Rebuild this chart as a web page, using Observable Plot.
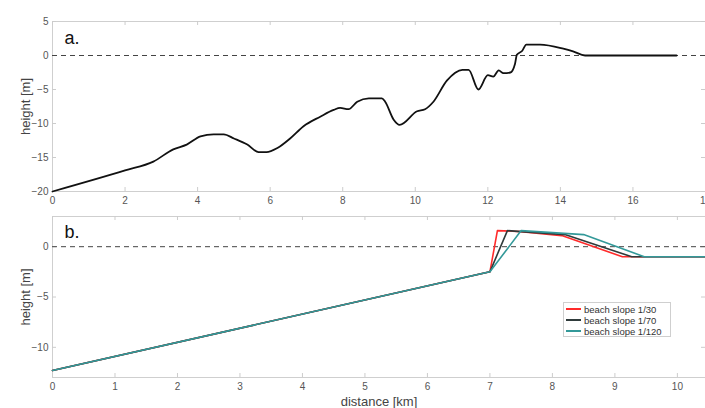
<!DOCTYPE html>
<html><head><meta charset="utf-8">
<script src="https://cdn.jsdelivr.net/npm/d3@7"></script>
<script src="https://cdn.jsdelivr.net/npm/@observablehq/plot@0.6"></script>
<style>
html,body{margin:0;padding:0;background:#fff;}
#wrap{position:relative;width:705px;height:408px;font-family:"Liberation Sans",Arial,sans-serif;}
#wrap svg{display:block;}
#legend{position:absolute;left:563px;top:302px;width:108px;height:35px;border:1px solid #cfcfcf;background:#fff;font-size:9.5px;color:#333;box-sizing:border-box;padding:1px 0 0 2px;}
#legend div{height:11px;line-height:11px;white-space:nowrap;}
#legend span.sw{display:inline-block;width:15px;height:2px;vertical-align:middle;margin-right:3px;position:relative;top:-1px;}
</style></head>
<body><div id="wrap"></div>
<script>
// ---- Panel a: cross-shore profile ----
const profileDist = [0, 2, 2.78, 3.33, 3.7, 4.08, 4.44, 4.72, 5.0, 5.37, 5.68, 5.9, 6.2, 6.55, 6.92, 7.38, 7.75, 7.93, 8.16, 8.4, 8.72, 9.08, 9.17, 9.4, 9.57, 10.05, 10.27, 10.5, 10.87, 11.3, 11.47, 11.74, 12.0, 12.15, 12.3, 12.43, 12.62, 12.75, 12.8, 12.95, 13.06, 13.44, 14.08, 14.35, 14.68, 17.2];
const profileHeight = [-20, -16.9, -15.6, -13.8, -13.1, -11.9, -11.6, -11.6, -12.2, -13.1, -14.2, -14.2, -13.6, -12.2, -10.4, -9.0, -8.0, -7.7, -7.9, -6.8, -6.3, -6.3, -6.8, -9.4, -10.2, -8.2, -7.9, -6.8, -3.7, -2.1, -2.1, -5.0, -2.9, -3.1, -2.2, -2.6, -2.5, -1.2, 0.1, 0.7, 1.6, 1.6, 1.0, 0.6, 0.0, 0.0];
const ticksA_x = [0, 2, 4, 6, 8, 10, 12, 14, 16, 18];
const ticksA_y = [5, 0, -5, -10, -15, -20];

// ---- Panel b: idealised profiles ----
const seriesNames = ["beach slope 1/30", "beach slope 1/70", "beach slope 1/120"];
const seriesColors = ["#ff2b2b", "#2f3b3b", "#339999"];
const slope30Dist = [0, 7, 7.12, 7.5, 8.15, 9.12, 10.5];
const slope30Height = [-12.3, -2.5, 1.6, 1.5, 1.1, -1.0, -1.0];
const slope70Dist = [0, 7, 7.28, 7.5, 8.2, 9.27, 10.5];
const slope70Height = [-12.3, -2.5, 1.6, 1.5, 1.2, -1.0, -1.0];
const slope120Dist = [0, 7, 7.5, 8.5, 9.47, 10.5];
const slope120Height = [-12.3, -2.5, 1.6, 1.2, -1.0, -1.0];
const ticksB_x = [0, 1, 2, 3, 4, 5, 6, 7, 8, 9, 10];
const ticksB_y = [0, -5, -10];

const profileA = profileDist.map((d, i) => ({d, h: profileHeight[i]}));
const profB = [];
[[slope30Dist, slope30Height], [slope70Dist, slope70Height], [slope120Dist, slope120Height]].forEach(([xs, ys], k) => {
  xs.forEach((d, i) => profB.push({d, h: ys[i], s: seriesNames[k]}));
});

const font = '"Liberation Sans", Arial, sans-serif';
const axisCol = "#555";

function tickMarks(xt, yt, plotH, plotW) {
  return [
    Plot.tickX(xt, {x: d => d, stroke: "#ccc", insetTop: plotH - 4}),
    Plot.tickX(xt, {x: d => d, stroke: "#ccc", insetBottom: plotH - 4}),
    Plot.tickY(yt, {y: d => d, stroke: "#ccc", insetRight: plotW - 4}),
    Plot.tickY(yt, {y: d => d, stroke: "#ccc", insetLeft: plotW - 4})
  ];
}

const W = 705;
// Panel a
const aH = 208, aTop = 21, aBottom = 17, left = 52;
const chartA = Plot.plot({
  width: W, height: aH, marginLeft: left, marginRight: 0, marginTop: aTop, marginBottom: aBottom,
  style: {fontFamily: font, fontSize: "10px", color: axisCol, background: "#fff"},
  x: {domain: [0, 18]},
  y: {domain: [-20, 5]},
  marks: [
    Plot.frame({stroke: "#cfcfcf"}),
    ...tickMarks(ticksA_x, ticksA_y, aH - aTop - aBottom, W - left),
    Plot.axisX({ticks: ticksA_x, tickSize: 0, tickPadding: 5, label: null, fill: axisCol}),
    Plot.axisY({ticks: ticksA_y, tickSize: 0, tickPadding: 4, label: "height [m]", labelAnchor: "center", labelArrow: false, labelOffset: 32, fill: axisCol}),
    Plot.ruleY([0], {stroke: "#444", strokeDasharray: "5,4", strokeWidth: 1}),
    Plot.line(profileA, {x: "d", y: "h", stroke: "#111", strokeWidth: 1.8, curve: "monotone-x"}),
    Plot.text(["a."], {frameAnchor: "top-left", dx: 12, dy: 10, fontSize: 18, fill: "#111"})
  ]
});

// Panel b
const bH = 200, bTop = 8, bBottom = 31;
const chartB = Plot.plot({
  width: W, height: bH, marginLeft: left, marginRight: 0, marginTop: bTop, marginBottom: bBottom,
  style: {fontFamily: font, fontSize: "10px", color: axisCol, background: "#fff"},
  x: {domain: [0, 10.45]},
  y: {domain: [-13, 3]},
  color: {domain: seriesNames, range: seriesColors},
  marks: [
    Plot.frame({stroke: "#cfcfcf"}),
    ...tickMarks(ticksB_x, ticksB_y, bH - bTop - bBottom, W - left),
    Plot.axisX({ticks: ticksB_x, tickSize: 0, tickPadding: 5, label: "distance [km]", labelAnchor: "center", labelArrow: false, labelOffset: 28, fill: axisCol}),
    Plot.axisY({ticks: ticksB_y, tickSize: 0, tickPadding: 4, label: "height [m]", labelAnchor: "center", labelArrow: false, labelOffset: 32, fill: axisCol}),
    Plot.ruleY([0], {stroke: "#444", strokeDasharray: "5,4", strokeWidth: 1}),
    Plot.line(profB, {x: "d", y: "h", z: "s", stroke: "s", strokeWidth: 1.6}),
    Plot.text(["b."], {frameAnchor: "top-left", dx: 12, dy: 9, fontSize: 18, fill: "#111"})
  ]
});

const wrap = document.getElementById("wrap");
wrap.appendChild(chartA);
wrap.appendChild(chartB);
// axis label font sizes
[chartA, chartB].forEach(c => {
  c.querySelectorAll("g[aria-label='y-axis label'] text, g[aria-label='x-axis label'] text").forEach(t => {
    t.setAttribute("font-size", "13"); t.setAttribute("fill", "#444");
  });
});

const leg = document.createElement("div");
leg.id = "legend";
seriesNames.forEach((n, i) => {
  const row = document.createElement("div");
  const sw = document.createElement("span"); sw.className = "sw"; sw.style.background = seriesColors[i];
  row.appendChild(sw); row.appendChild(document.createTextNode(n));
  leg.appendChild(row);
});
wrap.appendChild(leg);
</script>
</body></html>
